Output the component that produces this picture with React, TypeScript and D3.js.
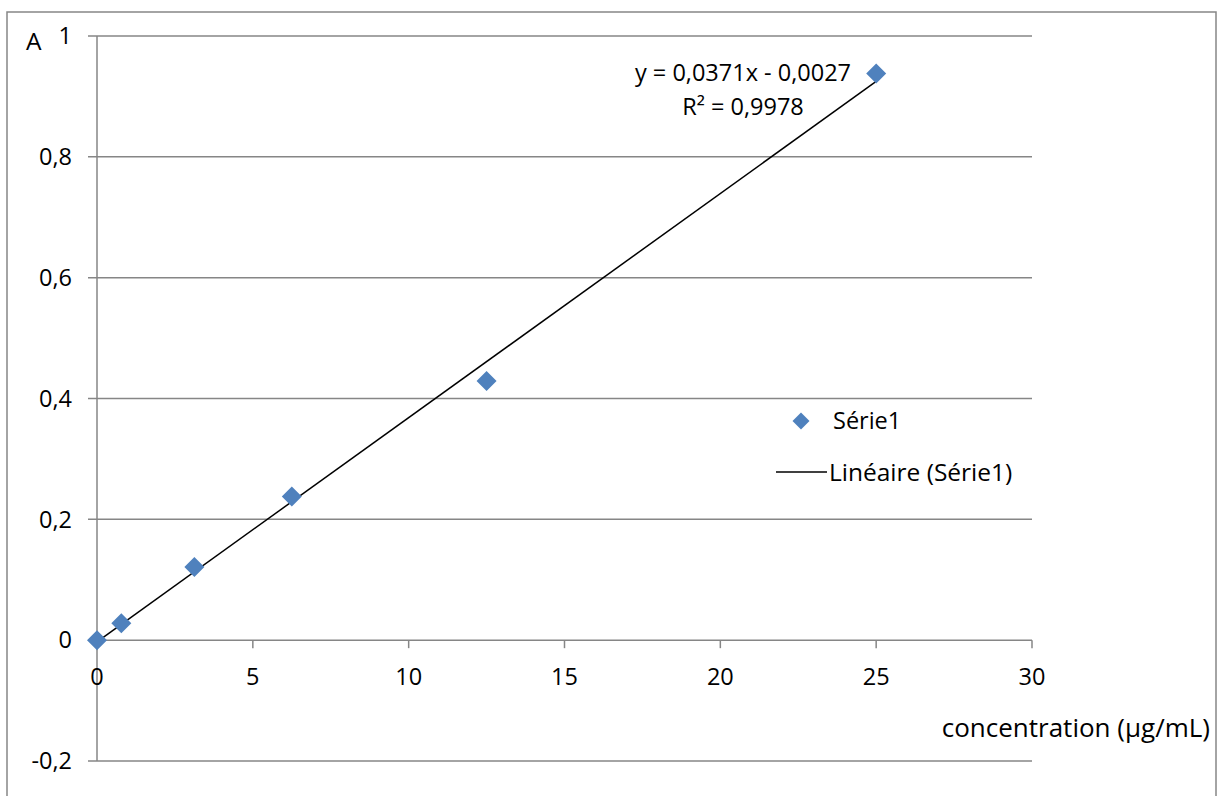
import React from "react";
import * as d3 from "d3";

const xValues = [0, 0.78, 3.125, 6.25, 12.5, 25];
const yValues = [0, 0.028, 0.121, 0.238, 0.429, 0.938];
const xTicks = [0, 5, 10, 15, 20, 25, 30];
const yTicks = [-0.2, 0, 0.2, 0.4, 0.6, 0.8, 1];
const slope = 0.0371;
const intercept = -0.0027;
const equationLabel = "y = 0,0371x - 0,0027";
const r2Label = "R² = 0,9978";
const seriesName = "Série1";
const trendName = "Linéaire (Série1)";
const xTitle = "concentration (µg/mL)";
const yTitle = "A";

const W = 1217;
const H = 796;
const FONT = "'Open Sans', 'DejaVu Sans', sans-serif";
const GRID = "#868686";
const BLUE = "#4F81BD";
const FS = 23.5;

export default function App() {
  const x = d3.scaleLinear().domain([0, 30]).range([97, 1032]);
  const y = d3.scaleLinear().domain([-0.2, 1]).range([761, 36]);
  const fmt = (v: number) => String(+v.toFixed(1)).replace(".", ",");
  const line = d3
    .line<number>()
    .x((d) => x(d))
    .y((d) => y(slope * d + intercept));
  const diamond = (cx: number, cy: number, r: number) =>
    `M${cx},${cy - r}L${cx + r},${cy}L${cx},${cy + r}L${cx - r},${cy}Z`;

  return (
    <svg
      width={W}
      height={H}
      style={{ position: "absolute", left: 0, top: 0, background: "#fff" }}
      fontFamily={FONT}
    >
      <rect x={7} y={12} width={1209} height={800} fill="#fff" stroke={GRID} strokeWidth={1.5} />
      {yTicks.map((t) => (
        <line key={"g" + t} x1={88} x2={1032} y1={y(t)} y2={y(t)} stroke={GRID} strokeWidth={1.5} />
      ))}
      <line x1={x(0)} x2={x(0)} y1={y(1)} y2={y(-0.2)} stroke={GRID} strokeWidth={1.5} />
      {xTicks.map((t) => (
        <line key={"xt" + t} x1={x(t)} x2={x(t)} y1={y(0)} y2={y(0) + 8} stroke={GRID} strokeWidth={1.5} />
      ))}
      {yTicks.map((t) => (
        <text key={"yl" + t} x={72} y={y(t)} dy="0.35em" textAnchor="end" fontSize={FS} fill="#000">
          {fmt(t)}
        </text>
      ))}
      {xTicks.map((t) => (
        <text key={"xl" + t} x={x(t)} y={677} dy="0.35em" textAnchor="middle" fontSize={FS} fill="#000">
          {t}
        </text>
      ))}
      <text x={26} y={41} dy="0.35em" fontSize={FS + 1} fill="#000">{yTitle}</text>
      <text x={1210} y={728} dy="0.35em" textAnchor="end" fontSize={26} fill="#000">{xTitle}</text>
      <path d={line([0, 25]) || ""} fill="none" stroke="#000" strokeWidth={1.5} />
      {xValues.map((v, i) => (
        <path key={"p" + i} d={diamond(x(v), y(yValues[i]), 10)} fill={BLUE} />
      ))}
      <text x={743} y={73} dy="0.35em" textAnchor="middle" fontSize={FS} fill="#000">{equationLabel}</text>
      <text x={743} y={107} dy="0.35em" textAnchor="middle" fontSize={FS} fill="#000">{r2Label}</text>
      <path d={diamond(801, 421, 8.5)} fill={BLUE} />
      <text x={833} y={421} dy="0.35em" fontSize={FS} fill="#000">{seriesName}</text>
      <line x1={776} x2={827} y1={472} y2={472} stroke="#000" strokeWidth={1.5} />
      <text x={829} y={472} dy="0.35em" fontSize={24.5} fill="#000">{trendName}</text>
    </svg>
  );
}
